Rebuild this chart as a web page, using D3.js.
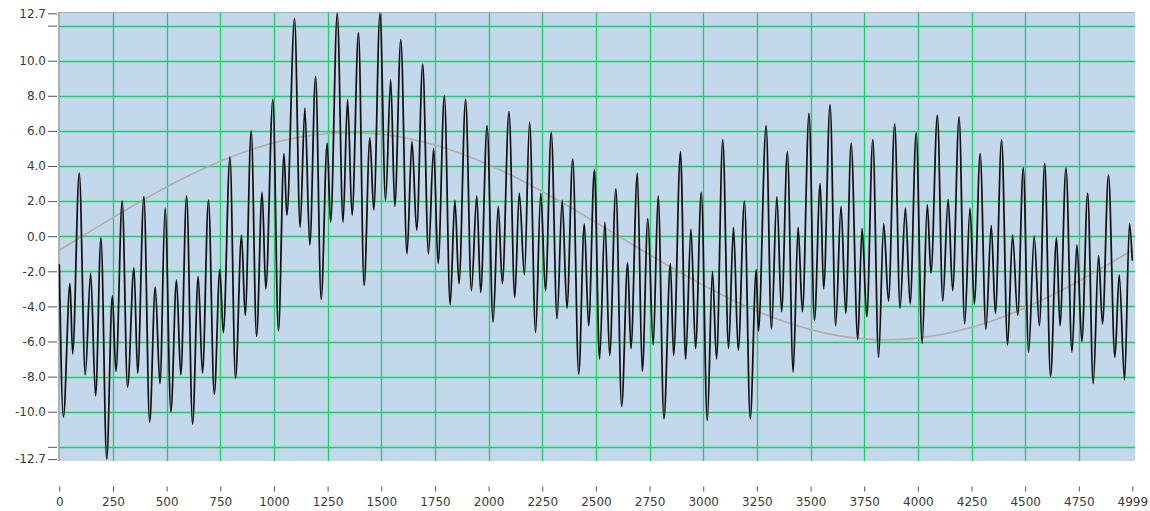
<!DOCTYPE html>
<html>
<head>
<meta charset="utf-8">
<script src="https://cdn.jsdelivr.net/npm/d3@7/dist/d3.min.js"></script>
<style>
  html, body { margin: 0; padding: 0; background: #ffffff; }
  svg { display: block; }
  text { font-family: "DejaVu Sans", Verdana, sans-serif; font-size: 12px; fill: #3a3a3a; }
</style>
</head>
<body>
<svg id="chart" width="1150" height="511"></svg>
<script>
// ---- data ----
const xTickValues = [0, 250, 500, 750, 1000, 1250, 1500, 1750, 2000, 2250, 2500, 2750, 3000, 3250, 3500, 3750, 4000, 4250, 4500, 4750, 4999];
const yTickValues = [-12.7, -12, -10, -8, -6, -4, -2, 0, 2, 4, 6, 8, 10, 12, 12.7];
const yLabelValues = [-12.7, -10, -8, -6, -4, -2, 0, 2, 4, 6, 8, 10, 12.7];
const yGridValues = [-12, -10, -8, -6, -4, -2, 0, 2, 4, 6, 8, 10, 12];

// slow trend curve (grey)
const trendX = [0, 250, 500, 750, 1000, 1250, 1500, 1750, 2000, 2250, 2500, 2750, 3000, 3250, 3500, 3750, 4000, 4250, 4500, 4750, 4999];
const trendY = [-0.8, 1.08, 2.85, 4.34, 5.41, 5.95, 5.9, 5.28, 4.14, 2.59, 0.8, -1.08, -2.83, -4.34, -5.41, -5.95, -5.9, -5.28, -4.14, -2.59, -0.8];

// oscillating signal (black): turning points
const signalX = [0, 19, 50, 62, 93, 121, 146, 169, 194, 221, 247, 264, 293, 318, 348, 365, 394, 421, 447, 469,
  493, 520, 546, 566, 593, 621, 647, 667, 695, 722, 748, 764, 795, 821, 849, 866, 894, 919, 945, 962,
  995, 1021, 1047, 1060, 1096, 1122, 1144, 1167, 1194, 1220, 1248, 1264, 1295, 1322, 1343, 1364, 1394, 1420, 1447, 1465,
  1494, 1520, 1544, 1563, 1591, 1620, 1643, 1665, 1693, 1720, 1744, 1765, 1794, 1821, 1843, 1862, 1893, 1920, 1945, 1963,
  1993, 2021, 2045, 2064, 2095, 2122, 2143, 2167, 2191, 2219, 2243, 2265, 2292, 2319, 2343, 2365, 2392, 2420, 2446, 2466,
  2493, 2517, 2542, 2564, 2593, 2620, 2648, 2663, 2693, 2716, 2742, 2767, 2790, 2817, 2847, 2862, 2894, 2918, 2943, 2964,
  2991, 3019, 3043, 3062, 3091, 3118, 3141, 3163, 3192, 3219, 3247, 3257, 3293, 3318, 3343, 3365, 3392, 3419, 3442, 3462,
  3493, 3518, 3545, 3561, 3591, 3617, 3642, 3664, 3689, 3720, 3740, 3762, 3790, 3817, 3841, 3863, 3892, 3917, 3942, 3964,
  3992, 4020, 4044, 4061, 4091, 4116, 4141, 4162, 4192, 4218, 4243, 4263, 4290, 4317, 4342, 4361, 4390, 4418, 4441, 4465,
  4491, 4516, 4542, 4566, 4591, 4618, 4646, 4662, 4690, 4718, 4741, 4764, 4791, 4817, 4842, 4860, 4888, 4918, 4938, 4963,
  4986, 4999];
const signalY = [-1.6, -10.3, -2.7, -6.7, 3.6, -7.9, -2.1, -9.1, -0.1, -12.7, -3.4, -7.7, 2.0, -8.6, -1.8, -7.8, 2.25, -10.6, -2.9, -8.4,
  1.6, -10.0, -2.5, -7.9, 2.3, -10.7, -2.3, -7.8, 2.05, -9.0, -1.9, -5.5, 4.5, -8.1, 0.05, -4.5, 6.0, -5.7, 2.5, -3.0,
  7.8, -5.4, 4.7, 1.2, 12.4, 0.5, 7.3, -0.5, 9.1, -3.6, 5.3, 0.8, 12.7, 0.8, 7.8, 1.2, 11.6, -2.8, 5.6, 1.5,
  12.7, 2.05, 8.9, 1.7, 11.2, -1.0, 5.4, 0.35, 9.8, -1.0, 5.0, -1.56, 8.0, -3.9, 2.05, -2.7, 7.8, -3.1, 2.3, -3.2,
  6.3, -4.9, 1.7, -2.7, 7.1, -3.5, 2.45, -2.2, 6.5, -5.5, 2.45, -3.1, 5.9, -4.7, 2.05, -4.1, 4.4, -7.85, 0.7, -5.1,
  3.8, -7.0, 0.8, -6.8, 2.7, -9.7, -1.5, -6.4, 3.6, -7.7, 1.0, -6.2, 2.3, -10.4, -1.56, -6.8, 4.8, -7.0, 0.4, -6.4,
  2.5, -10.5, -2.0, -7.0, 5.5, -6.4, 0.5, -6.5, 2.0, -10.4, -1.9, -5.4, 6.3, -5.3, 2.25, -4.3, 4.8, -7.75, 0.5, -4.3,
  7.0, -4.8, 3.0, -3.0, 7.5, -5.1, 1.7, -4.4, 5.3, -5.9, 0.44, -4.6, 5.5, -6.9, 0.7, -3.7, 6.4, -4.1, 1.6, -3.85,
  5.9, -6.1, 1.8, -2.1, 6.9, -3.7, 2.1, -3.1, 6.8, -5.0, 1.6, -3.85, 4.7, -5.3, 0.6, -4.4, 5.5, -6.2, 0.06, -4.5,
  3.9, -6.6, 0.0, -5.1, 4.15, -8.0, -0.1, -5.1, 3.9, -6.6, -0.5, -6.0, 2.45, -8.4, -1.1, -5.0, 3.5, -6.9, -2.2, -8.2,
  0.7, -1.4];

// ---- drawing ----
const svg = d3.select("#chart");
const x = d3.scaleLinear().domain([0, 4999]).range([59.3, 1132.3]);
const y = d3.scaleLinear().domain([-12.7, 12.7]).range([459.1, 13.3]);

const plotLeft = 58.5, plotRight = 1135, plotTop = 12, plotBottom = 461;

svg.append("rect")
  .attr("x", plotLeft).attr("y", plotTop)
  .attr("width", plotRight - plotLeft).attr("height", plotBottom - plotTop)
  .attr("fill", "#c4d8ec");

svg.append("defs").append("clipPath").attr("id", "clip")
  .append("rect")
  .attr("x", plotLeft).attr("y", plotTop)
  .attr("width", plotRight - plotLeft).attr("height", plotBottom - plotTop);

const grid = svg.append("g").attr("stroke", "#1fcc68").attr("stroke-width", 1.3);
grid.selectAll("line.h").data(yGridValues).join("line")
  .attr("class", "h")
  .attr("x1", plotLeft).attr("x2", plotRight)
  .attr("y1", d => Math.round(y(d)) + 0.5).attr("y2", d => Math.round(y(d)) + 0.5);
grid.selectAll("line.v").data(xTickValues.slice(1, -1)).join("line")
  .attr("class", "v")
  .attr("y1", plotTop).attr("y2", plotBottom)
  .attr("x1", d => Math.round(x(d)) + 0.5).attr("x2", d => Math.round(x(d)) + 0.5);

// borders (top and left)
svg.append("line").attr("x1", plotLeft).attr("x2", plotRight).attr("y1", plotTop + 0.5).attr("y2", plotTop + 0.5)
  .attr("stroke", "#a8adb3").attr("stroke-width", 1.2);
svg.append("line").attr("x1", plotLeft + 0.5).attr("x2", plotLeft + 0.5).attr("y1", plotTop).attr("y2", plotBottom)
  .attr("stroke", "#9ea4aa").attr("stroke-width", 1.6);

const lines = svg.append("g").attr("clip-path", "url(#clip)");

const trendLine = d3.line().x(d => x(d[0])).y(d => y(d[1])).curve(d3.curveBasis);
lines.append("path")
  .datum(d3.zip(trendX, trendY))
  .attr("d", trendLine)
  .attr("fill", "none").attr("stroke", "#b3aca7").attr("stroke-width", 1.6);

const sigLine = d3.line().x(d => x(d[0])).y(d => y(d[1])).curve(d3.curveMonotoneX);
lines.append("path")
  .datum(d3.zip(signalX, signalY))
  .attr("d", sigLine)
  .attr("fill", "none").attr("stroke", "#111").attr("stroke-width", 1.75)
  .attr("stroke-linejoin", "round");

// y axis
const yAxis = d3.axisLeft(y)
  .tickValues(yTickValues)
  .tickSize(9)
  .tickPadding(2)
  .tickFormat(d => yLabelValues.includes(d) ? d.toFixed(1) : "");
const gy = svg.append("g").attr("transform", "translate(57,0)").call(yAxis);
gy.select(".domain").remove();
gy.selectAll(".tick line").attr("stroke", "#555");
gy.selectAll(".tick text").attr("font-family", "DejaVu Sans").attr("font-size", 12).attr("fill", "#3a3a3a");

// x axis
const xAxis = d3.axisBottom(x)
  .tickValues(xTickValues)
  .tickSize(5)
  .tickPadding(6)
  .tickFormat(d => String(d));
const gx = svg.append("g").attr("transform", "translate(0,486.5)").call(xAxis);
gx.select(".domain").remove();
gx.selectAll(".tick line").attr("stroke", "#555");
gx.selectAll(".tick text").attr("font-family", "DejaVu Sans").attr("font-size", 12).attr("fill", "#3a3a3a");
</script>
</body>
</html>
